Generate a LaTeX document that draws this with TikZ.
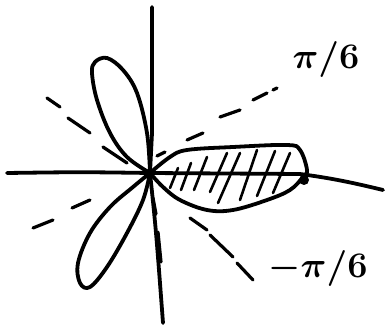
\documentclass[tikz,border=0pt]{standalone}
\begin{document}
\begin{tikzpicture}[x=1pt,y=-1pt,
  ink/.style={line width=3.8pt,line cap=round,line join=round},
  dashink/.style={line width=3.2pt,line cap=round},
  hatch/.style={line width=2.6pt,line cap=round},
  lbl/.style={font=\boldmath\Large,scale=2.5,inner sep=0pt}]
\useasboundingbox (0,0) rectangle (387,328);
\coordinate (O) at (150,173);
% axes
\draw[ink] (7,173) .. controls (80,172) .. (O) -- (300,174) .. controls (330,178) and (350,182) .. (383,190);
\draw[ink] (152,7) -- (152,133) -- (O) .. controls (156,230) .. (163,323);
% right petal
\draw[ink] plot[smooth,tension=0.6] coordinates {(O) (170,157) (187,150) (233,147) (287,145) (300,150) (307,170) (303,177) (290,190) (267,200) (233,210) (207,210) (180,200) (163,187) (O)};
\fill (304,180) circle (5);
% upper-left petal
\draw[ink] plot[smooth,tension=0.6] coordinates {(O) (147,133) (137,93) (123,70) (107,58) (95,62) (92,73) (97,100) (110,133) (127,157) (O)};
% lower-left petal
\draw[ink] plot[smooth,tension=0.6] coordinates {(O) (133,187) (110,207) (90,233) (78,263) (80,283) (90,287) (107,267) (127,233) (143,200) (O)};
% dashes pi/6 line
\draw[dashink] (157,156) -- (165,152);
\draw[dashink] (187,140) -- (203,133);
\draw[dashink] (220,117) -- (240,110);
\draw[dashink] (253,100) -- (267,93);
\draw[dashink] (273,90) -- (277,88);
\draw[dashink] (33,228) -- (53,220);
\draw[dashink] (72,208) -- (90,200);
% dashes -pi/6 line
\draw[dashink] (190,218) -- (207,230);
\draw[dashink] (210,235) -- (233,257);
\draw[dashink] (237,263) -- (253,280);
\draw[dashink] (47,98) -- (60,107);
\draw[dashink] (68,118) -- (90,133);
\draw[dashink] (103,147) -- (127,163);
% dashes near y-axis
\draw[dashink] (153,198) -- (156,214);
\draw[dashink] (158,232) -- (161,262);
% hatching
\foreach \a/\b/\c/\d in {170/188/178/168, 181/190/191/163, 194/190/207/157, 210/192/227/153, 218/203/240/153, 240/200/257/150, 257/196/275/151, 273/193/290/153}
  \draw[hatch] (\a,\b) -- (\c,\d);
% labels
\node[lbl] (p) at (326,60) {$\pi/6$};
\node[lbl] (m) at (318,268) {$-\pi/6$};
\end{tikzpicture}
\end{document}
